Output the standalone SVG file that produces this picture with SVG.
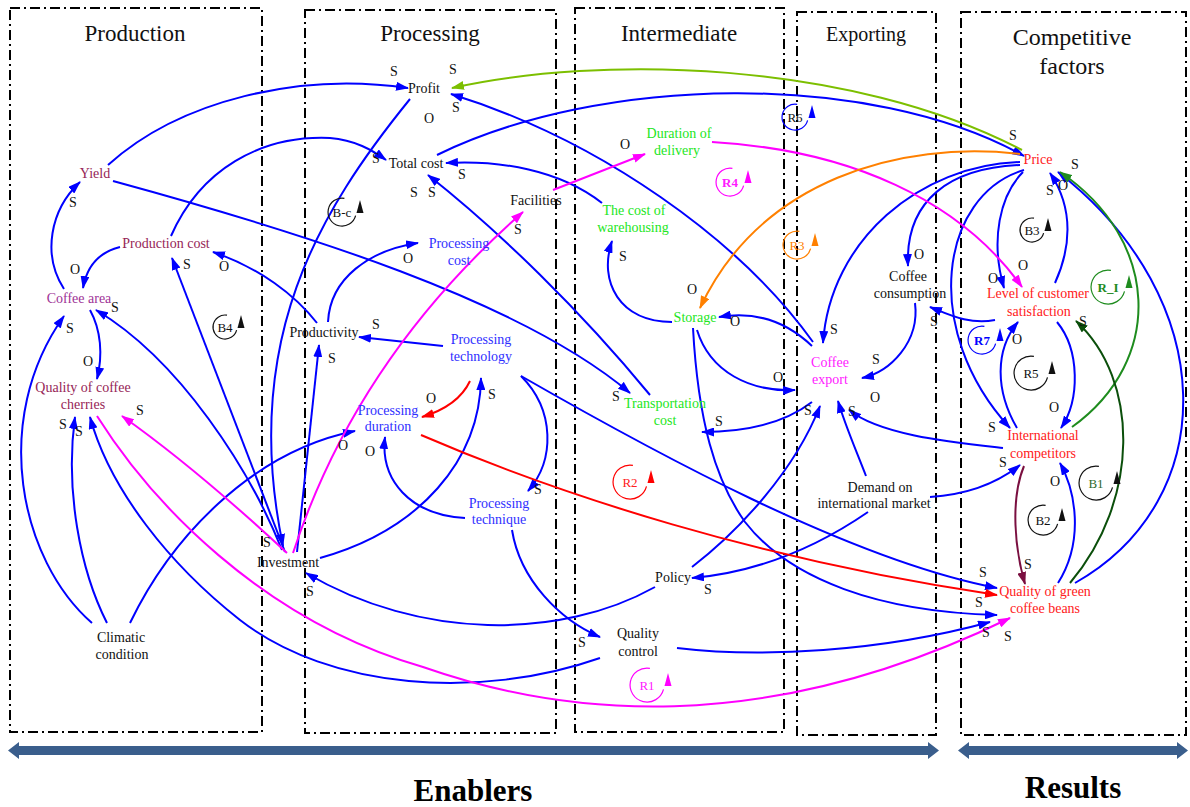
<svg xmlns="http://www.w3.org/2000/svg" width="1190" height="807" viewBox="0 0 1190 807">
<style>
  .box{fill:none;stroke:#000;stroke-width:2;stroke-dasharray:10 4 2 4}
  .title{font-family:"Liberation Serif",serif;font-size:23px;fill:#111;text-anchor:middle}
  .big{font-family:"Liberation Serif",serif;font-size:31px;font-weight:bold;fill:#000;text-anchor:middle}
  .n{font-family:"Liberation Serif",serif;font-size:14px;text-anchor:middle}
  .p{font-family:"Liberation Serif",serif;font-size:14px;fill:#111;text-anchor:middle}
  .lt{font-family:"Liberation Serif",serif;font-size:13px;text-anchor:middle}
  .c{fill:none;stroke-width:2}
  .bl{stroke:#0000ff;marker-end:url(#ab)}
  .rd{stroke:#ff0000;marker-end:url(#ar)}
  .mg{stroke:#ff00ff;marker-end:url(#am)}
  .or{stroke:#ff8000;marker-end:url(#ao)}
  .yg{stroke:#7cbf00;marker-end:url(#ay)}
  .gr{stroke:#1e8c1e;marker-end:url(#ag)}
  .dg{stroke:#0b4f0b;marker-end:url(#ad)}
  .mr{stroke:#7a0f40;marker-end:url(#amr)}
  .loop{fill:none;stroke-width:1.2}
  .blk{fill:#111}
  .maroon{fill:#961e56}.purple{fill:#9e3296}.green{fill:#22e622}
  .blue{fill:#3030ff}.magenta{fill:#ff1aff}.red{fill:#ff2020}
  .band{fill:#3a5e8c}
</style>
<defs>
  <marker id="ab" viewBox="0 0 13 9" refX="12" refY="4.5" markerWidth="13" markerHeight="9" markerUnits="userSpaceOnUse" orient="auto"><path d="M0,0 L13,4.5 L0,9 z" fill="#0000ff"/></marker>
  <marker id="ar" viewBox="0 0 13 9" refX="12" refY="4.5" markerWidth="13" markerHeight="9" markerUnits="userSpaceOnUse" orient="auto"><path d="M0,0 L13,4.5 L0,9 z" fill="#ff0000"/></marker>
  <marker id="am" viewBox="0 0 13 9" refX="12" refY="4.5" markerWidth="13" markerHeight="9" markerUnits="userSpaceOnUse" orient="auto"><path d="M0,0 L13,4.5 L0,9 z" fill="#ff00ff"/></marker>
  <marker id="ao" viewBox="0 0 13 9" refX="12" refY="4.5" markerWidth="13" markerHeight="9" markerUnits="userSpaceOnUse" orient="auto"><path d="M0,0 L13,4.5 L0,9 z" fill="#ff8000"/></marker>
  <marker id="ay" viewBox="0 0 13 9" refX="12" refY="4.5" markerWidth="13" markerHeight="9" markerUnits="userSpaceOnUse" orient="auto"><path d="M0,0 L13,4.5 L0,9 z" fill="#7cbf00"/></marker>
  <marker id="ag" viewBox="0 0 13 9" refX="12" refY="4.5" markerWidth="13" markerHeight="9" markerUnits="userSpaceOnUse" orient="auto"><path d="M0,0 L13,4.5 L0,9 z" fill="#1e8c1e"/></marker>
  <marker id="ad" viewBox="0 0 13 9" refX="12" refY="4.5" markerWidth="13" markerHeight="9" markerUnits="userSpaceOnUse" orient="auto"><path d="M0,0 L13,4.5 L0,9 z" fill="#0b4f0b"/></marker>
  <marker id="amr" viewBox="0 0 13 9" refX="12" refY="4.5" markerWidth="13" markerHeight="9" markerUnits="userSpaceOnUse" orient="auto"><path d="M0,0 L13,4.5 L0,9 z" fill="#7a0f40"/></marker>
</defs>
<rect width="1190" height="807" fill="#fff"/>

<!-- stage frames -->
<g id="frames">
  <rect class="box" x="10" y="8" width="252" height="724"/>
  <rect class="box" x="305" y="10" width="251" height="723"/>
  <rect class="box" x="575" y="8" width="209" height="724"/>
  <rect class="box" x="797" y="12" width="139" height="723"/>
  <rect class="box" x="961" y="12" width="225" height="723"/>
  <text class="title" x="135" y="41">Production</text>
  <text class="title" x="430" y="41">Processing</text>
  <text class="title" x="679" y="41">Intermediate</text>
  <text class="title" x="866" y="41" style="font-size:20px">Exporting</text>
  <text class="title" x="1072" y="45" style="font-size:24px">Competitive</text>
  <text class="title" x="1072" y="74" style="font-size:24px">factors</text>
</g>

<!-- enablers / results bands -->
<g id="bands">
  <path class="band" d="M8,750.5 L19,742 L19,746 L928,746 L928,742 L939,750.5 L928,759 L928,755 L19,755 L19,759 Z"/>
  <path class="band" d="M958,750.5 L969,742 L969,746 L1177,746 L1177,742 L1188,750.5 L1177,759 L1177,755 L969,755 L969,759 Z"/>
  <text class="big" x="473" y="801">Enablers</text>
  <text class="big" x="1073" y="798">Results</text>
</g>

<!-- causal links -->
<g id="connectors">
  <path class="c bl" d="M108,165 C180,100 300,72 408,88"/>
  <path class="c bl" d="M171,236 C200,170 260,135 330,138 C355,140 372,150 386,160"/>
  <path class="c bl" d="M113,181 C300,232 520,300 630,393"/>
  <path class="c bl" d="M64,289 C42,255 50,210 80,182"/>
  <path class="c bl" d="M120,247 C100,252 87,265 83,288"/>
  <path class="c bl" d="M90,310 C101,330 103,355 97,379"/>
  <path class="c bl" d="M317,323 C295,295 260,268 213,252"/>
  <path class="c bl" d="M328,322 C330,278 370,250 418,243"/>
  <path class="c bl" d="M297,552 L319,345"/>
  <path class="c bl" d="M285,552 L172,258"/>
  <path class="c bl" d="M282,550 C250,470 180,360 96,310"/>
  <path class="c bl" d="M410,99 C320,210 240,340 283,546"/>
  <path class="c bl" d="M320,558 C420,530 480,460 481,378"/>
  <path class="c bl" d="M465,518 C410,515 380,480 385,437"/>
  <path class="c bl" d="M443,346 L359,337"/>
  <path class="c bl" d="M521,376 C555,410 555,460 528,491"/>
  <path class="c bl" d="M521,376 C650,450 850,560 997,588"/>
  <path class="c bl" d="M92,623 C20,560 -10,420 64,316"/>
  <path class="c bl" d="M107,623 C80,570 65,490 75,417"/>
  <path class="c bl" d="M600,658 C480,700 330,690 240,620 C170,565 110,490 90,417"/>
  <path class="c bl" d="M130,623 C170,540 250,452 355,431"/>
  <path class="c bl" d="M655,587 C560,640 420,640 306,573"/>
  <path class="c bl" d="M692,567 C740,530 795,470 820,406"/>
  <path class="c bl" d="M868,512 C820,545 760,572 692,578"/>
  <path class="c bl" d="M866,476 C856,450 845,425 838,401"/>
  <path class="c bl" d="M930,497 C962,495 995,485 1020,465"/>
  <path class="c bl" d="M512,530 C520,580 560,620 600,637"/>
  <path class="c bl" d="M677,648 C760,658 880,652 990,622"/>
  <path class="c bl" d="M693,328 C698,420 715,480 745,522 C790,580 880,612 997,615"/>
  <path class="c bl" d="M697,330 C710,372 750,392 795,390"/>
  <path class="c bl" d="M812,346 C790,325 760,310 719,317"/>
  <path class="c bl" d="M672,322 C620,322 598,282 612,241"/>
  <path class="c bl" d="M602,203 C560,170 500,160 446,163"/>
  <path class="c bl" d="M650,395 C580,310 500,232 428,175"/>
  <path class="c bl" d="M812,402 C782,425 742,432 702,432"/>
  <path class="c bl" d="M1020,162 C920,165 830,240 823,343"/>
  <path class="c bl" d="M813,342 C740,240 600,140 451,94"/>
  <path class="c bl" d="M437,155 C600,75 870,70 1024,156"/>
  <path class="c bl" d="M1020,165 C950,168 905,200 908,266"/>
  <path class="c bl" d="M1023,172 C1000,195 990,240 1004,288"/>
  <path class="c bl" d="M1055,283 C1070,250 1075,210 1050,173"/>
  <path class="c bl" d="M1024,170 C940,195 920,330 1010,428"/>
  <path class="c bl" d="M1017,428 C995,390 995,350 1018,322"/>
  <path class="c bl" d="M1057,322 C1080,350 1080,400 1061,428"/>
  <path class="c bl" d="M995,320 C970,325 950,315 930,307"/>
  <path class="c bl" d="M1003,448 C950,442 880,435 849,410"/>
  <path class="c bl" d="M915,303 C920,342 890,372 862,378"/>
  <path class="c bl" d="M1058,583 C1085,540 1075,490 1060,463"/>
  <path class="c bl" d="M1075,583 C1222,500 1222,300 1058,172"/>
  <path class="c rd" d="M470,381 C462,398 445,410 422,417"/>
  <path class="c rd" d="M421,435 C560,495 760,560 997,595"/>
  <path class="c mg" d="M293,553 C330,440 400,320 523,212"/>
  <path class="c mg" d="M553,190 L645,154"/>
  <path class="c mg" d="M712,142 C850,150 960,200 1022,287"/>
  <path class="c mg" d="M287,553 C230,500 170,450 122,416"/>
  <path class="c mg" d="M97,416 C150,500 260,620 423,667 C560,715 760,740 1010,618"/>
  <path class="c or" d="M1020,154 C900,140 760,180 700,308"/>
  <path class="c yg" d="M1022,150 C850,60 600,55 452,88"/>
  <path class="c gr" d="M1072,427 C1165,360 1160,240 1060,172"/>
  <path class="c dg" d="M1070,583 C1140,500 1140,380 1076,321"/>
  <path class="c mr" d="M1024,466 C1010,500 1015,550 1025,584"/>
</g>

<!-- link polarity marks -->
<g id="polarity" class="p">
  <text x="394" y="76">S</text><text x="453" y="74">S</text><text x="456" y="112">S</text>
  <text x="429" y="123">O</text><text x="376" y="163">S</text><text x="462" y="179">S</text>
  <text x="414" y="197">S</text><text x="432" y="197">S</text><text x="518" y="234">S</text>
  <text x="408" y="263">O</text><text x="625" y="149">O</text><text x="623" y="261">S</text>
  <text x="1013" y="140">S</text><text x="1050" y="195">S</text><text x="1063" y="190">O</text>
  <text x="1075" y="169">S</text><text x="919" y="259">O</text><text x="1023" y="270">O</text>
  <text x="993" y="283">O</text><text x="692" y="294">O</text><text x="735" y="326">O</text>
  <text x="834" y="334">S</text><text x="778" y="382">O</text><text x="876" y="364">S</text>
  <text x="719" y="426">S</text><text x="616" y="401">S</text><text x="808" y="415">S</text>
  <text x="852" y="416">S</text><text x="875" y="402">O</text><text x="934" y="326">S</text>
  <text x="1017" y="344">O</text><text x="1054" y="412">O</text><text x="992" y="432">S</text>
  <text x="1083" y="326">S</text><text x="1003" y="467">S</text><text x="1055" y="486">O</text>
  <text x="1028" y="569">S</text><text x="983" y="577">S</text><text x="979" y="607">S</text>
  <text x="986" y="637">S</text><text x="1008" y="641">S</text>
  <text x="376" y="329">S</text><text x="332" y="363">S</text><text x="492" y="399">S</text>
  <text x="431" y="403">O</text><text x="343" y="450">O</text><text x="370" y="456">O</text>
  <text x="538" y="494">S</text><text x="267" y="547">S</text><text x="310" y="596">S</text>
  <text x="582" y="647">S</text><text x="708" y="594">S</text>
  <text x="73" y="207">S</text><text x="75" y="274">O</text><text x="224" y="271">O</text>
  <text x="187" y="269">S</text><text x="115" y="312">S</text><text x="70" y="333">S</text>
  <text x="88" y="366">O</text><text x="63" y="429">S</text><text x="79" y="436">S</text>
  <text x="140" y="415">S</text>
</g>

<!-- loop identifiers -->
<g id="loops">
  <g id="loop-Bc"><path class="loop" stroke="#111" d="M344.4,198.3 A14,14 0 1 0 355.6,215.6"/><path class="blk" d="M360,200 L363.5,213 L356.5,213 Z"/><text class="lt blk" x="342" y="216.5">B-c</text></g>
  <g id="loop-B4"><path class="loop" stroke="#111" d="M227,315.2 A12,12 0 1 0 236.6,330.1"/><path class="blk" d="M241,315 L244.5,328 L237.5,328 Z"/><text class="lt blk" x="225" y="331.5">B4</text></g>
  <g id="loop-R6"><path class="loop" stroke="#0000ff" d="M797.2,104.3 A13,13 0 1 0 807.6,120.4"/><path fill="#0000ff" d="M812,105 L815.5,118 L808.5,118 Z"/><text class="lt blk" x="795" y="121.5">R6</text></g>
  <g id="loop-R4"><path class="loop" stroke="#ff00ff" d="M732.4,168.3 A14,14 0 1 0 743.6,185.6"/><path fill="#ff00ff" d="M748,170 L751.5,183 L744.5,183 Z"/><text class="lt magenta" x="730" y="186.5" font-weight="bold">R4</text></g>
  <g id="loop-R3"><path class="loop" stroke="#ff8000" d="M799.4,231.3 A14,14 0 1 0 810.6,248.6"/><path fill="#ff8000" d="M815,233 L818.5,246 L811.5,246 Z"/><text class="lt" fill="#ff8000" x="797" y="249.5">R3</text></g>
  <g id="loop-B3"><path class="loop" stroke="#111" d="M1034,218.2 A12,12 0 1 0 1043.6,233.1"/><path class="blk" d="M1048,218 L1051.5,231 L1044.5,231 Z"/><text class="lt blk" x="1032" y="234.5">B3</text></g>
  <g id="loop-RI"><path class="loop" stroke="#1e8c1e" d="M1110.9,270.3 A17,17 0 1 0 1124.5,291.4"/><path fill="#1e8c1e" d="M1129,275 L1132.5,288 L1125.5,288 Z"/><text class="lt" fill="#1e8c1e" x="1108" y="291.5" font-weight="bold">R_I</text></g>
  <g id="loop-R7"><path class="loop" stroke="#0000ff" d="M984.4,326.3 A14,14 0 1 0 995.6,343.6"/><path fill="#0000ff" d="M1000,328 L1003.5,341 L996.5,341 Z"/><text class="lt" fill="#0000ff" x="982" y="344.5" font-weight="bold">R7</text></g>
  <g id="loop-R5"><path class="loop" stroke="#111" d="M1033.9,356.3 A17,17 0 1 0 1047.5,377.4"/><path class="blk" d="M1052,361 L1055.5,374 L1048.5,374 Z"/><text class="lt blk" x="1031" y="377.5">R5</text></g>
  <g id="loop-B1"><path class="loop" stroke="#111" d="M1098.9,466.3 A17,17 0 1 0 1112.5,487.4"/><path class="blk" d="M1117,471 L1120.5,484 L1113.5,484 Z"/><text class="lt" fill="#2e6b2e" x="1096" y="487.5">B1</text></g>
  <g id="loop-B2"><path class="loop" stroke="#111" d="M1045.6,505.3 A15,15 0 1 0 1057.6,523.9"/><path class="blk" d="M1062,508 L1065.5,521 L1058.5,521 Z"/><text class="lt blk" x="1043" y="524.5">B2</text></g>
  <g id="loop-R2"><path class="loop" stroke="#ff0000" d="M632.9,465.3 A17,17 0 1 0 646.5,486.4"/><path fill="#ff0000" d="M651,470 L654.5,483 L647.5,483 Z"/><text class="lt red" x="630" y="486.5">R2</text></g>
  <g id="loop-R1"><path class="loop" stroke="#ff00ff" d="M649.9,668.3 A17,17 0 1 0 663.5,689.4"/><path fill="#ff00ff" d="M668,673 L671.5,686 L664.5,686 Z"/><text class="lt magenta" x="647" y="689.5">R1</text></g>
</g>

<!-- variables -->
<g id="n-yield"><text class="n maroon" x="95" y="178">Yield</text></g>
<g id="n-production-cost"><text class="n maroon" x="166" y="248">Production cost</text></g>
<g id="n-coffee-area"><text class="n purple" x="79" y="303">Coffee area</text></g>
<g id="n-quality-cherries"><text class="n maroon"><tspan x="83" y="392">Quality of coffee</tspan><tspan x="83" y="409">cherries</tspan></text></g>
<g id="n-climatic"><text class="n blk"><tspan x="121" y="642">Climatic</tspan><tspan x="122" y="659">condition</tspan></text></g>
<g id="n-profit"><text class="n blk" x="424" y="93">Profit</text></g>
<g id="n-total-cost"><text class="n blk" x="416" y="168">Total cost</text></g>
<g id="n-facilities"><text class="n blk" x="536" y="205">Facilities</text></g>
<g id="n-processing-cost"><text class="n blue"><tspan x="459" y="248">Processing</tspan><tspan x="459" y="265">cost</tspan></text></g>
<g id="n-productivity"><text class="n blk" x="324" y="337">Productivity</text></g>
<g id="n-processing-technology"><text class="n blue"><tspan x="481" y="344">Processing</tspan><tspan x="481" y="361">technology</tspan></text></g>
<g id="n-processing-duration"><text class="n blue"><tspan x="388" y="415">Processing</tspan><tspan x="388" y="431">duration</tspan></text></g>
<g id="n-processing-technique"><text class="n blue"><tspan x="499" y="508">Processing</tspan><tspan x="499" y="524">technique</tspan></text></g>
<g id="n-investment"><text class="n blk" x="288" y="567">Investment</text></g>
<g id="n-duration-delivery"><text class="n green"><tspan x="679" y="138">Duration of</tspan><tspan x="677" y="155">delivery</tspan></text></g>
<g id="n-warehousing"><text class="n green"><tspan x="634" y="215">The cost of</tspan><tspan x="633" y="232">warehousing</tspan></text></g>
<g id="n-storage"><text class="n green" x="695" y="322">Storage</text></g>
<g id="n-transportation"><text class="n green"><tspan x="665" y="408">Transportation</tspan><tspan x="665" y="425">cost</tspan></text></g>
<g id="n-policy"><text class="n blk" x="673" y="582">Policy</text></g>
<g id="n-quality-control"><text class="n blk"><tspan x="638" y="638">Quality</tspan><tspan x="638" y="656">control</tspan></text></g>
<g id="n-coffee-export"><text class="n magenta"><tspan x="830" y="367">Coffee</tspan><tspan x="830" y="384">export</tspan></text></g>
<g id="n-demand"><text class="n blk"><tspan x="880" y="492">Demand on</tspan><tspan x="874" y="508">international market</tspan></text></g>
<g id="n-consumption"><text class="n blk"><tspan x="908" y="281">Coffee</tspan><tspan x="910" y="298">consumption</tspan></text></g>
<g id="n-price"><text class="n red" x="1038" y="164">Price</text></g>
<g id="n-satisfaction"><text class="n red"><tspan x="1038" y="298">Level of customer</tspan><tspan x="1039" y="316">satisfaction</tspan></text></g>
<g id="n-competitors"><text class="n red"><tspan x="1043" y="440">International</tspan><tspan x="1043" y="458">competitors</tspan></text></g>
<g id="n-green-beans"><text class="n red"><tspan x="1045" y="596">Quality of green</tspan><tspan x="1045" y="613">coffee beans</tspan></text></g>
</svg>
